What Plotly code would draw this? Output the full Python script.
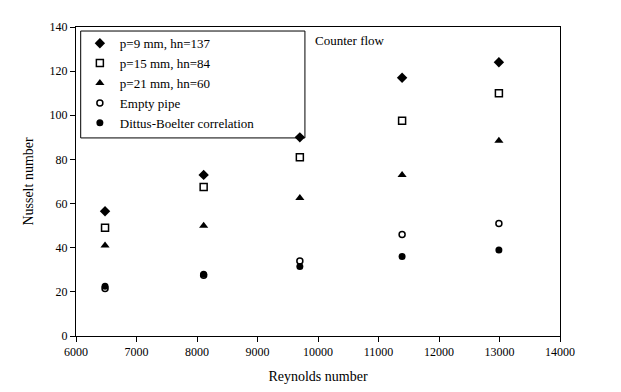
import plotly.graph_objects as go

reynolds = [6480, 8110, 9700, 11390, 12990]
nu_p9 = [56.5, 73, 90, 117, 124]
nu_p15 = [49, 67.5, 81, 97.5, 110]
nu_p21 = [41, 50, 62.5, 73, 88.5]
nu_empty = [21.5, 27.5, 34, 46, 51]
nu_dittus = [22.5, 28, 31.5, 36, 39]

names = ["p=9 mm, hn=137", "p=15 mm, hn=84", "p=21 mm, hn=60",
         "Empty pipe", "Dittus-Boelter correlation"]
series = [nu_p9, nu_p15, nu_p21, nu_empty, nu_dittus]
symbols = ["diamond", "square-open", "triangle-up", "circle-open", "circle"]
sizes = [8, 7, 8, 6, 7]

font = "Liberation Serif, Times New Roman, serif"

fig = go.Figure()
for n, s, sym, sz in zip(names, series, symbols, sizes):
    fig.add_trace(go.Scatter(
        x=reynolds, y=s, mode="markers", name=n,
        marker=dict(symbol=sym, size=sz, color="black",
                    line=dict(color="black", width=1.5 if "open" in sym else 0)),
    ))

fig.update_layout(
    width=621, height=392,
    margin=dict(l=68, r=69, t=16, b=64),
    paper_bgcolor="white", plot_bgcolor="white",
    font=dict(family=font, size=12, color="black"),
    showlegend=True,
    legend=dict(x=0.008, y=0.996, xanchor="left", yanchor="top",
                borderwidth=0, bgcolor="rgba(0,0,0,0)",
                font=dict(family=font, size=13), itemsizing="trace",
                tracegroupgap=0, itemwidth=30),
    shapes=[dict(type="rect", xref="paper", yref="paper",
                 x0=0.0097, x1=0.473, y0=0.641, y1=0.987,
                 line=dict(color="black", width=1), fillcolor="rgba(0,0,0,0)")],
    annotations=[dict(x=0.49, y=0.955, xref="paper", yref="paper",
                      text="Counter flow", showarrow=False,
                      xanchor="left", yanchor="middle",
                      font=dict(family=font, size=13))],
)
fig.update_xaxes(range=[6000, 14000], dtick=1000, tick0=6000, tickformat="d",
                 showgrid=False, zeroline=False,
                 showline=True, linecolor="black", linewidth=1, mirror=True,
                 ticks="outside", ticklen=5, tickcolor="black",
                 tickfont=dict(family=font, size=12),
                 title=dict(text="Reynolds number", font=dict(family=font, size=14), standoff=12))
fig.update_yaxes(range=[0, 140], dtick=20,
                 showgrid=False, zeroline=False,
                 showline=True, linecolor="black", linewidth=1, mirror=True,
                 ticks="outside", ticklen=5, tickcolor="black",
                 tickfont=dict(family=font, size=12),
                 title=dict(text="Nusselt number", font=dict(family=font, size=14), standoff=12))

fig.write_html("out.html")
